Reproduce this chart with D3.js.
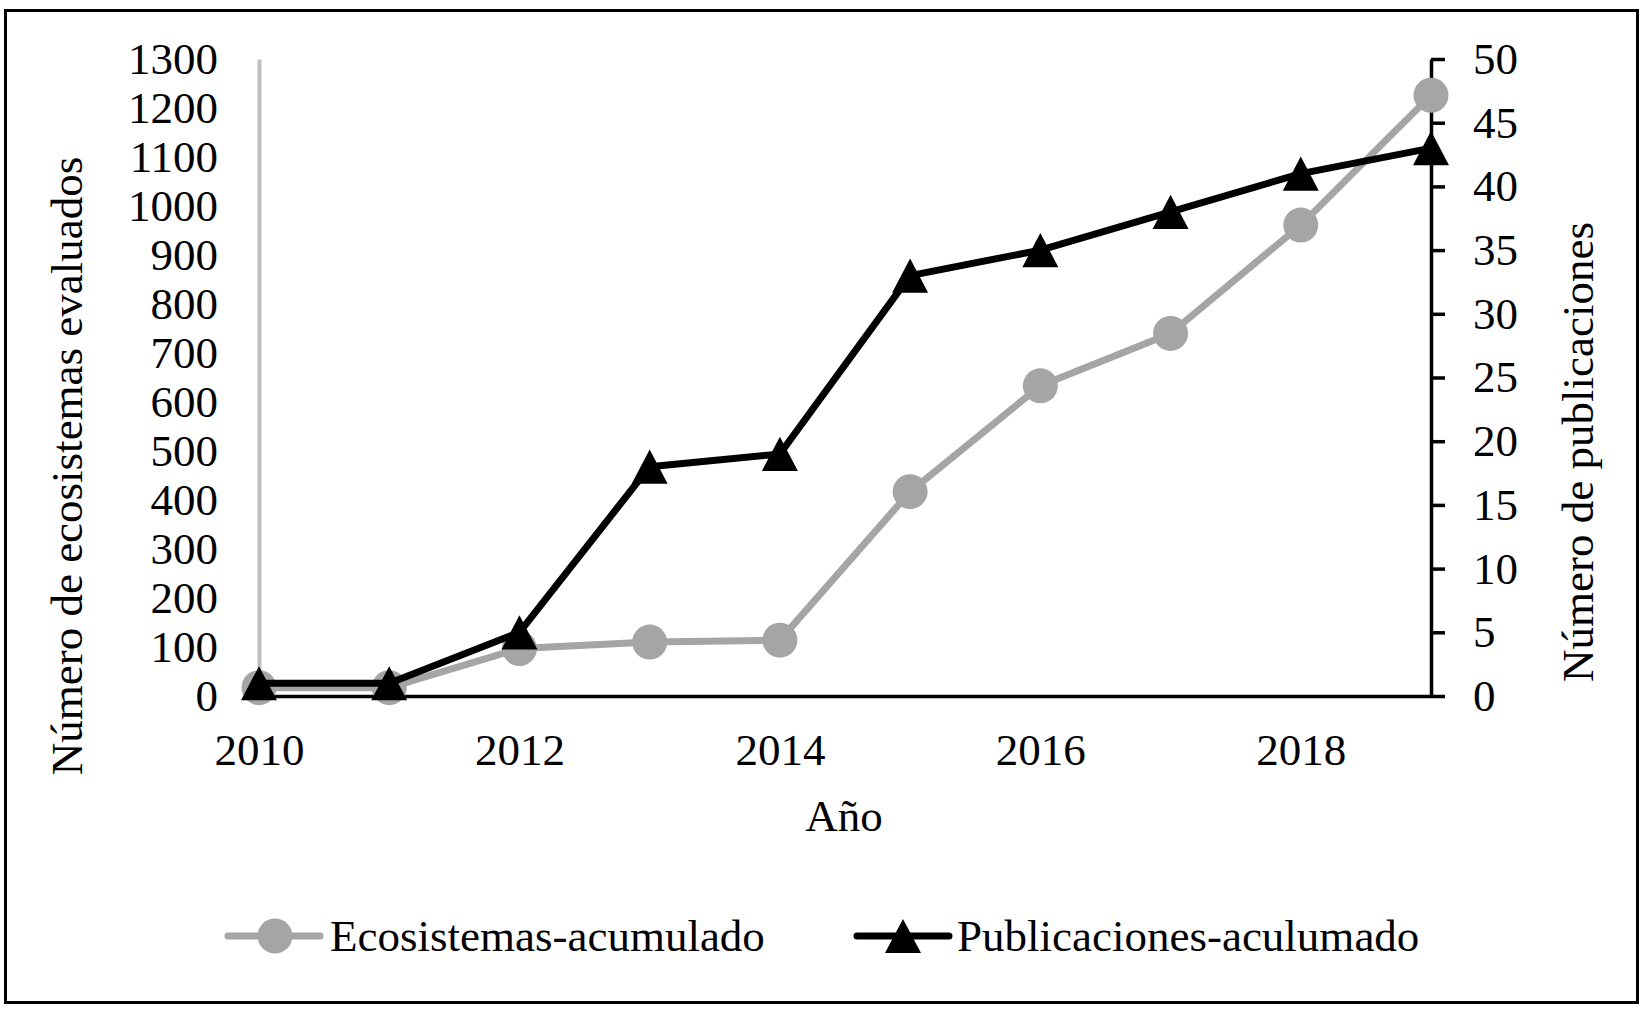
<!DOCTYPE html>
<html>
<head>
<meta charset="utf-8">
<script src="https://cdn.jsdelivr.net/npm/d3@7"></script>
<style>
  body { margin: 0; background: #fff; }
  text { font-family: "Liberation Serif", "Times New Roman", serif; }
</style>
</head>
<body>
<svg id="chart" width="1643" height="1010"></svg>
<script>
// data
var years = [2010, 2011, 2012, 2013, 2014, 2015, 2016, 2017, 2018, 2019];
var ecosistemas = [17, 17, 97, 110, 114, 417, 633, 740, 961, 1226];
var publicaciones = [1, 1, 5, 18, 19, 33, 35, 38, 41, 43];
var yearTicks = [2010, 2012, 2014, 2016, 2018];
var leftTicks = d3.range(0, 1301, 100);
var rightTicks = d3.range(0, 51, 5);

var grey = "#a5a5a5";
var fontSize = 45;

var svg = d3.select("#chart");

// outer frame
svg.append("rect")
  .attr("x", 5.5).attr("y", 10.5)
  .attr("width", 1632).attr("height", 992)
  .attr("fill", "none").attr("stroke", "#000").attr("stroke-width", 3);

var x = d3.scaleLinear().domain([2010, 2019]).range([259, 1431]);
var yL = d3.scaleLinear().domain([0, 1300]).range([696, 59]);
var yR = d3.scaleLinear().domain([0, 50]).range([696, 59]);

// triangle centred on its bounding box (like the spreadsheet marker)
var triangle = {
  draw: function(ctx, size) {
    var w = Math.sqrt(size), h = w * 0.95;
    ctx.moveTo(0, -h / 2);
    ctx.lineTo(w / 2, h / 2);
    ctx.lineTo(-w / 2, h / 2);
    ctx.closePath();
  }
};
var triSym = d3.symbol().type(triangle).size(36 * 36);

// left axis (grey line, no ticks)
var gL = svg.append("g")
  .attr("transform", "translate(" + x(2010) + ",0)")
  .call(d3.axisLeft(yL).tickValues(leftTicks).tickFormat(d3.format("d")).tickSize(0).tickPadding(41));
gL.select(".domain").attr("stroke", "#bfbfbf").attr("stroke-width", 4);

// right axis
var gR = svg.append("g")
  .attr("transform", "translate(" + x(2019) + ",0)")
  .call(d3.axisRight(yR).tickValues(rightTicks).tickSize(14).tickSizeOuter(0).tickPadding(28));
gR.select(".domain").attr("stroke", "#000").attr("stroke-width", 3.5);
gR.selectAll(".tick line").attr("stroke", "#000").attr("stroke-width", 3.5);

// bottom axis
var gB = svg.append("g")
  .attr("transform", "translate(0," + yL(0) + ")")
  .call(d3.axisBottom(x).tickValues(yearTicks).tickFormat(d3.format("d")).tickSize(0).tickPadding(37));
gB.select(".domain").attr("stroke", "#000").attr("stroke-width", 3.5);

svg.selectAll(".tick text")
  .attr("font-family", "Liberation Serif, Times New Roman, serif")
  .attr("font-size", fontSize)
  .attr("fill", "#000");

// axis titles
svg.append("text")
  .attr("transform", "translate(82,466) rotate(-90)")
  .attr("text-anchor", "middle")
  .attr("font-size", fontSize)
  .text("Número de ecosistemas evaluados");

svg.append("text")
  .attr("transform", "translate(1593,452) rotate(-90)")
  .attr("text-anchor", "middle")
  .attr("font-size", fontSize)
  .text("Número de publicaciones");

svg.append("text")
  .attr("x", 844).attr("y", 831)
  .attr("text-anchor", "middle")
  .attr("font-size", fontSize)
  .text("Año");

// series: ecosistemas (left axis)
var lineL = d3.line().x(function(d, i){ return x(years[i]); }).y(function(d){ return yL(d); });
svg.append("path")
  .datum(ecosistemas)
  .attr("d", lineL)
  .attr("fill", "none").attr("stroke", grey).attr("stroke-width", 7)
  .attr("stroke-linejoin", "round");
svg.selectAll(".eco-dot")
  .data(ecosistemas)
  .enter().append("circle")
  .attr("class", "eco-dot")
  .attr("cx", function(d, i){ return x(years[i]); })
  .attr("cy", function(d){ return yL(d); })
  .attr("r", 17.5)
  .attr("fill", grey);

// series: publicaciones (right axis)
var lineR = d3.line().x(function(d, i){ return x(years[i]); }).y(function(d){ return yR(d); });
svg.append("path")
  .datum(publicaciones)
  .attr("d", lineR)
  .attr("fill", "none").attr("stroke", "#000").attr("stroke-width", 7)
  .attr("stroke-linejoin", "round");
svg.selectAll(".pub-tri")
  .data(publicaciones)
  .enter().append("path")
  .attr("class", "pub-tri")
  .attr("d", triSym)
  .attr("transform", function(d, i){ return "translate(" + x(years[i]) + "," + yR(d) + ")"; })
  .attr("fill", "#000");

// legend
var legY = 936;
var leg = svg.append("g");
leg.append("line").attr("x1", 228).attr("x2", 320).attr("y1", legY).attr("y2", legY)
  .attr("stroke", grey).attr("stroke-width", 7).attr("stroke-linecap", "round");
leg.append("circle").attr("cx", 275).attr("cy", legY).attr("r", 17.5).attr("fill", grey);
leg.append("text").attr("x", 330).attr("y", legY).attr("dy", "0.33em")
  .attr("font-size", fontSize).text("Ecosistemas-acumulado");

leg.append("line").attr("x1", 857).attr("x2", 949).attr("y1", legY).attr("y2", legY)
  .attr("stroke", "#000").attr("stroke-width", 7).attr("stroke-linecap", "round");
leg.append("path").attr("d", triSym)
  .attr("transform", "translate(903," + legY + ")").attr("fill", "#000");
leg.append("text").attr("x", 957).attr("y", legY).attr("dy", "0.33em")
  .attr("font-size", fontSize).text("Publicaciones-aculumado");
</script>
</body>
</html>
